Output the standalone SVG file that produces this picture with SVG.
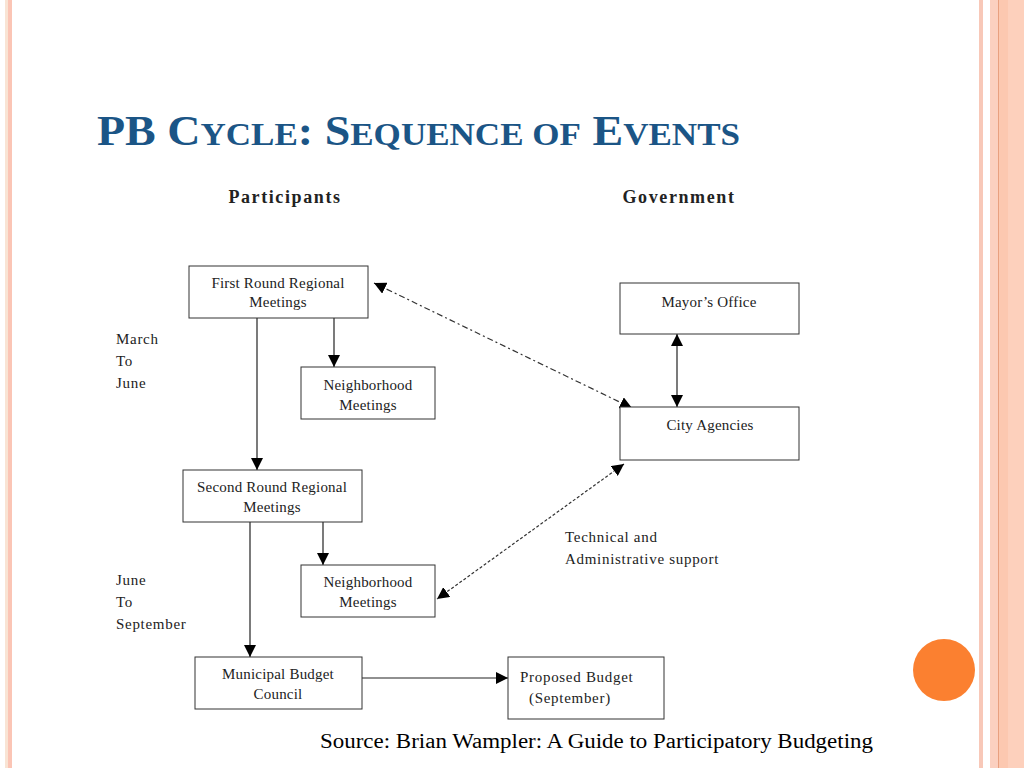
<svg xmlns="http://www.w3.org/2000/svg" width="1024" height="768" viewBox="0 0 1024 768">
<style>
.box{fill:#fff;stroke:#333;stroke-width:1}
.nt{font-family:"Liberation Serif","Times New Roman",serif;font-size:15px;fill:#222;text-anchor:middle;letter-spacing:0.2px}
.lt{font-family:"Liberation Serif","Times New Roman",serif;font-size:15px;fill:#222;letter-spacing:0.7px}
.hd{font-family:"Liberation Serif","Times New Roman",serif;font-size:18px;font-weight:bold;fill:#222;text-anchor:middle;letter-spacing:1.6px}
.ln{stroke:#222;stroke-width:1.2;fill:none}
.dd{stroke:#333;stroke-width:1.2;fill:none;stroke-dasharray:6 3 2 3}
.dt{stroke:#333;stroke-width:1.2;fill:none;stroke-dasharray:3 2}
</style>
<defs>
<marker id="ah" viewBox="0 0 10 10" refX="10" refY="5" markerWidth="12" markerHeight="12" markerUnits="userSpaceOnUse" orient="auto-start-reverse">
<path d="M0,0 L10,5 L0,10 Z" fill="#000"/>
</marker>
</defs>
<rect width="1024" height="768" fill="#fff"/>
<g id="border">
<rect x="5" y="0" width="3" height="768" fill="#f9e4d4"/>
<rect x="8" y="0" width="4" height="768" fill="#fbc5b5"/>
<rect x="979" y="0" width="4" height="768" fill="#f8c8b8"/>
<rect x="990" y="0" width="8" height="768" fill="#fbd0c0"/>
<rect x="998" y="0" width="1" height="768" fill="#e8a080"/>
<rect x="999" y="0" width="9" height="768" fill="#fcc8b0"/>
<rect x="1008" y="0" width="16" height="768" fill="#fdd0bc"/>
</g>
<circle cx="944" cy="670" r="31" fill="#fb8030"/>
<text x="97" y="145" textLength="643" lengthAdjust="spacingAndGlyphs" font-family="'Liberation Serif','Times New Roman',serif" font-weight="bold" font-size="42" fill="#1b5586">PB C<tspan font-size="32">YCLE</tspan>: S<tspan font-size="32">EQUENCE OF</tspan> E<tspan font-size="32">VENTS</tspan></text>
<text class="hd" x="285" y="203">Participants</text>
<text class="hd" x="679" y="203">Government</text>
<g id="connectors">
<line class="ln" x1="257" y1="318" x2="257" y2="470" marker-end="url(#ah)"/>
<line class="ln" x1="334" y1="318" x2="334" y2="367" marker-end="url(#ah)"/>
<line class="ln" x1="250" y1="522" x2="250" y2="657" marker-end="url(#ah)"/>
<line class="ln" x1="323" y1="522" x2="323" y2="565" marker-end="url(#ah)"/>
<line class="ln" x1="362" y1="678" x2="508" y2="678" marker-end="url(#ah)"/>
<line class="ln" x1="677" y1="334" x2="677" y2="407" marker-start="url(#ah)" marker-end="url(#ah)"/>
<line class="dd" x1="374" y1="283" x2="632" y2="408" marker-start="url(#ah)" marker-end="url(#ah)"/>
<line class="dt" x1="624" y1="464" x2="437" y2="599" marker-start="url(#ah)" marker-end="url(#ah)"/>
</g>
<g id="first-round"><rect class="box" x="189" y="266" width="179" height="52"/><text class="nt" x="278" y="288">First Round Regional</text><text class="nt" x="278" y="307">Meetings</text></g>
<g id="neigh1"><rect class="box" x="301" y="367" width="134" height="52"/><text class="nt" x="368" y="390">Neighborhood</text><text class="nt" x="368" y="410">Meetings</text></g>
<g id="second-round"><rect class="box" x="183" y="470" width="179" height="52"/><text class="nt" x="272" y="492">Second Round Regional</text><text class="nt" x="272" y="512">Meetings</text></g>
<g id="neigh2"><rect class="box" x="301" y="565" width="134" height="52"/><text class="nt" x="368" y="587">Neighborhood</text><text class="nt" x="368" y="607">Meetings</text></g>
<g id="council"><rect class="box" x="195" y="657" width="167" height="52"/><text class="nt" x="278" y="679">Municipal Budget</text><text class="nt" x="278" y="699">Council</text></g>
<g id="proposed"><rect class="box" x="508" y="657" width="156" height="62"/><text class="lt" x="520" y="682">Proposed Budget</text><text class="lt" x="529" y="703">(September)</text></g>
<g id="mayor"><rect class="box" x="620" y="283" width="179" height="51"/><text class="nt" x="709" y="307">Mayor’s Office</text></g>
<g id="agencies"><rect class="box" x="620" y="407" width="179" height="53"/><text class="nt" x="710" y="430">City Agencies</text></g>
<text class="lt" x="116" y="344">March</text>
<text class="lt" x="116" y="366">To</text>
<text class="lt" x="116" y="388">June</text>
<text class="lt" x="116" y="585">June</text>
<text class="lt" x="116" y="607">To</text>
<text class="lt" x="116" y="629">September</text>
<text class="lt" x="565" y="542">Technical and</text>
<text class="lt" x="565" y="564">Administrative support</text>
<text x="320" y="748" textLength="553" lengthAdjust="spacingAndGlyphs" font-family="'Liberation Serif','Times New Roman',serif" font-size="20" fill="#000">Source: Brian Wampler: A Guide to Participatory Budgeting</text>
</svg>
